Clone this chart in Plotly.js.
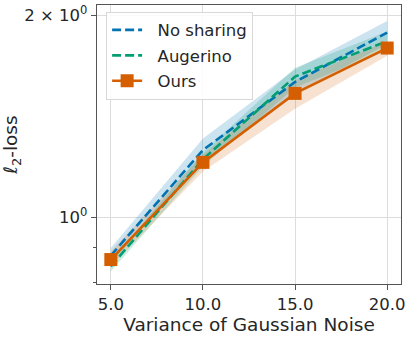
<!DOCTYPE html>
<html><head><meta charset="utf-8">
<script src="https://cdn.plot.ly/plotly-3.0.1.min.js"></script>
<style>html,body{margin:0;padding:0;background:#fff}#chart{width:407px;height:337px}</style>
</head><body><div id="chart"></div>
<script>
const noise = [5, 10, 15, 20];
const xTickText = ["5.0", "10.0", "15.0", "20.0"];
const seriesNames = ["No sharing", "Augerino", "Ours"];
const noShareMean = [0.877, 1.259, 1.59, 1.883];
const noShareLo   = [0.855, 1.21, 1.53, 1.81];
const noShareHi   = [0.90, 1.31, 1.66, 1.96];
const augMean = [0.845, 1.22, 1.62, 1.828];
const augLo   = [0.83, 1.19, 1.56, 1.77];
const augHi   = [0.86, 1.25, 1.67, 1.89];
const oursMean = [0.865, 1.207, 1.529, 1.786];
const oursLo   = [0.845, 1.17, 1.45, 1.74];
const oursHi   = [0.89, 1.24, 1.60, 1.83];
const yTickVals = [1, 2];
const yTickText = ["10<sup>0</sup>", "2 × 10<sup>0</sup>"];
const yMinorVals = [0.8, 0.9];

const C = {blue: "#0173b2", green: "#029e73", orange: "#d55e00"};
const pad = "\u00a0\u00a0";
function band(lo, hi, color) {
  return {x: noise.concat(noise.slice().reverse()), y: hi.concat(lo.slice().reverse()),
    fill: "toself", fillcolor: color, line: {width: 0}, mode: "lines",
    showlegend: false, hoverinfo: "skip", type: "scatter"};
}
const traces = [
  band(noShareLo, noShareHi, "rgba(1,115,178,0.2)"),
  band(augLo, augHi, "rgba(2,158,115,0.2)"),
  band(oursLo, oursHi, "rgba(213,94,0,0.18)"),
  {x: noise, y: noShareMean, name: pad + seriesNames[0], legendgroup: "a", mode: "lines", type: "scatter",
   line: {color: C.blue, width: 2.6, dash: "9px,4px"}},
  {x: noise, y: augMean, name: pad + seriesNames[1], legendgroup: "b", mode: "lines", type: "scatter",
   line: {color: C.green, width: 2.6, dash: "9px,4px"}},
  {x: noise, y: oursMean, name: pad + seriesNames[2], legendgroup: "c", mode: "lines+markers", type: "scatter",
   line: {color: C.orange, width: 2.6}, marker: {symbol: "square", size: 13, color: C.orange}}
];
const font = {family: "DejaVu Sans", size: 16.5, color: "#262626"};
const layout = {
  width: 407, height: 337,
  margin: {l: 97, r: 6, t: 5, b: 53},
  paper_bgcolor: "#fff", plot_bgcolor: "#fff",
  font: font,
  showlegend: true,
  legend: {x: 0.03, y: 0.976, xanchor: "left", yanchor: "top", traceorder: "grouped",
    bgcolor: "rgba(255,255,255,0.85)", bordercolor: "#d8d8d8", borderwidth: 1,
    font: {family: "DejaVu Sans", size: 16.5, color: "#262626"}, tracegroupgap: 1, itemwidth: 30},
  xaxis: {range: [4.25, 20.75], tickvals: noise, ticktext: xTickText,
    showgrid: true, gridcolor: "#dcdcdc", gridwidth: 1, zeroline: false,
    showline: true, linecolor: "#555", linewidth: 1.3, mirror: true,
    ticks: "outside", ticklen: 5, tickcolor: "#555",
    tickfont: {family: "DejaVu Sans", size: 16.5, color: "#262626"},
    title: {text: "Variance of Gaussian Noise", font: {family: "DejaVu Sans", size: 18.5, color: "#262626"}, standoff: 0}},
  yaxis: {type: "log", range: [Math.log10(0.7955), Math.log10(2.07)],
    tickvals: yTickVals, ticktext: yTickText,
    showgrid: true, gridcolor: "#dcdcdc", gridwidth: 1, zeroline: false,
    showline: true, linecolor: "#555", linewidth: 1.3, mirror: true,
    ticks: "outside", ticklen: 5, tickcolor: "#555",
    minor: {tickvals: yMinorVals, ticks: "outside", ticklen: 3, tickcolor: "#555", showgrid: false},
    tickfont: {family: "DejaVu Sans", size: 16.5, color: "#262626"},
    title: {text: "<i>ℓ</i><sub>2</sub>-loss", font: {family: "DejaVu Sans", size: 18.5, color: "#262626"}, standoff: 8}}
};
Plotly.newPlot("chart", traces, layout, {displayModeBar: false, staticPlot: true});
</script></body></html>
